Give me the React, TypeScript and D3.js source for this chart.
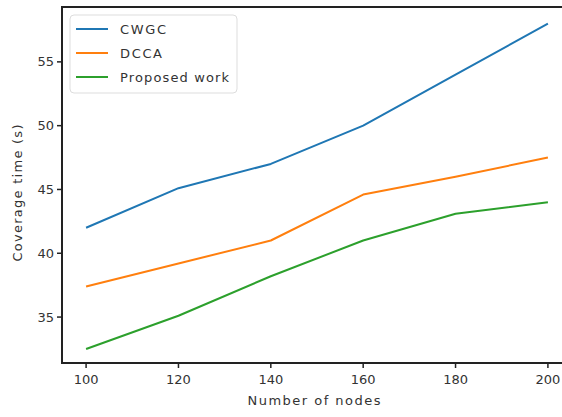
import React from "react";
import * as d3 from "d3";

const nodes = [100, 120, 140, 160, 180, 200];
const cwgc = [42, 45.1, 47, 50, 54, 58];
const dcca = [37.4, 39.2, 41, 44.6, 46, 47.5];
const proposed = [32.5, 35.1, 38.2, 41, 43.1, 44];
const seriesNames = ["CWGC", "DCCA", "Proposed work"];
const seriesColors = ["#1f77b4", "#ff7f0e", "#2ca02c"];
const legendWidths = [46, 42, 109];
const xTicks = [100, 120, 140, 160, 180, 200];
const yTicks = [35, 40, 45, 50, 55];

const W = 562;
const H = 417;

export default function App() {
  const x = d3.scaleLinear().domain([95, 205]).range([63, 571]);
  const y = d3.scaleLinear().domain([31.4, 59.3]).range([363, 7]);
  const data = [cwgc, dcca, proposed];
  const line = d3
    .line<number>()
    .x((_, i) => x(nodes[i]))
    .y((d) => y(d));
  const font = "'DejaVu Sans', sans-serif";
  return (
    <svg
      width={W}
      height={H}
      style={{ position: "absolute", left: 0, top: 0, background: "#fff" }}
      fontFamily={font}
    >
      <defs>
        <clipPath id="plot">
          <rect x={63} y={7} width={508} height={356} />
        </clipPath>
      </defs>
      <g clipPath="url(#plot)">
        {data.map((s, k) => (
          <path
            key={k}
            d={line(s) || ""}
            fill="none"
            stroke={seriesColors[k]}
            strokeWidth={2}
            strokeLinejoin="round"
          />
        ))}
      </g>
      {/* frame */}
      <line x1={62} x2={562} y1={7} y2={7} stroke="#222" strokeWidth={2} />
      <line x1={62} x2={562} y1={363} y2={363} stroke="#222" strokeWidth={2} />
      <line x1={62} x2={62} y1={6} y2={364} stroke="#222" strokeWidth={2} />
      {/* x ticks */}
      {xTicks.map((t) => (
        <g key={t}>
          <line x1={x(t)} x2={x(t)} y1={363} y2={368} stroke="#222" strokeWidth={1.5} />
          <text x={x(t)} y={384} textAnchor="middle" fontSize={13} fill="#333">
            {t}
          </text>
        </g>
      ))}
      {yTicks.map((t) => (
        <g key={t}>
          <line x1={57} x2={62} y1={y(t)} y2={y(t)} stroke="#222" strokeWidth={1.5} />
          <text x={54} y={y(t) + 4.5} textAnchor="end" fontSize={13} fill="#333">
            {t}
          </text>
        </g>
      ))}
      <text x={314} y={405} textAnchor="middle" fontSize={13} fill="#333" textLength={133}>
        Number of nodes
      </text>
      <text
        transform={`translate(22,193) rotate(-90)`}
        textAnchor="middle"
        fontSize={13}
        fill="#333"
        textLength={137}
      >
        Coverage time (s)
      </text>
      {/* legend */}
      <rect x={70} y={15} width={167} height={78} rx={4} fill="#fff" fillOpacity={0.8} stroke="#ddd" />
      {seriesNames.map((n, k) => (
        <g key={n}>
          <line
            x1={76}
            x2={108}
            y1={29 + k * 24}
            y2={29 + k * 24}
            stroke={seriesColors[k]}
            strokeWidth={2}
          />
          <text
            x={120}
            y={29 + k * 24 + 5}
            fontSize={13}
            fill="#333"
            textLength={legendWidths[k]}
          >
            {n}
          </text>
        </g>
      ))}
    </svg>
  );
}
